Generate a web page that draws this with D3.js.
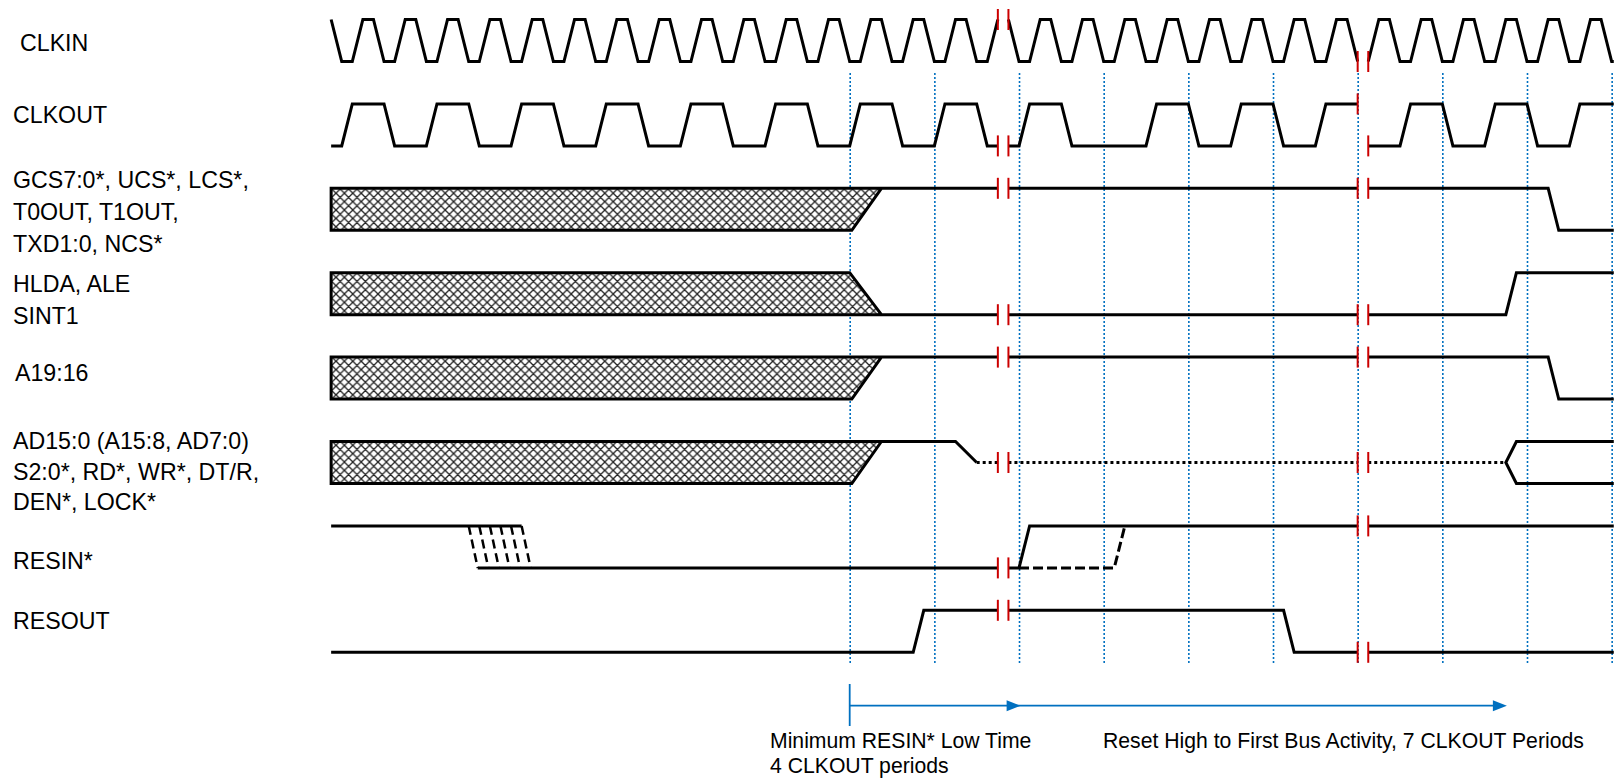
<!DOCTYPE html>
<html>
<head>
<meta charset="utf-8">
<script src="https://cdn.jsdelivr.net/npm/d3@7"></script>
<style>
  html, body { margin: 0; padding: 0; background: #fff; }
  svg { display: block; }
  text { font-family: "Liberation Sans", Arial, sans-serif; fill: #000; }
</style>
</head>
<body>
<svg id="chart" width="1614" height="780"></svg>
<script>

// time is counted in eighths of a CLKOUT period, t = 0 at the first marker line
// levels: 1 = high, 0 = low, 0.5 = floating

var labelLines = [
    [ 'CLKIN' ],
    [ 'CLKOUT' ],
    [ 'GCS7:0*, UCS*, LCS*,', 'T0OUT, T1OUT,', 'TXD1:0, NCS*' ],
    [ 'HLDA, ALE', 'SINT1' ],
    [ 'A19:16' ],
    [ 'AD15:0 (A15:8, AD7:0)', 'S2:0*, RD*, WR*, DT/R,', 'DEN*, LOCK*' ],
    [ 'RESIN*' ],
    [ 'RESOUT' ]
];

// clocks: [from, to, start level] and the edge times inside each span
var clkinSpans = [ [ -49, 14, 1 ], [ 15, 48, 1 ], [ 49, 72.2, 0 ] ];
var clkinEdges = [
    [ -49, -47, -45, -43, -41, -39, -37, -35, -33, -31, -29, -27, -25, -23, -21, -19,
      -17, -15, -13, -11, -9, -7, -5, -3, -1, 1, 3, 5, 7, 9, 11, 13 ],
    [ 15, 17, 19, 21, 23, 25, 27, 29, 31, 33, 35, 37, 39, 41, 43, 45, 47 ],
    [ 49, 51, 53, 55, 57, 59, 61, 63, 65, 67, 69, 71 ]
];

var clkoutSpans = [ [ -49, 14, 0 ], [ 15, 48, 0 ], [ 49, 72.2, 0 ] ];
var clkoutEdges = [
    [ -48, -44, -40, -36, -32, -28, -24, -20, -16, -12, -8, -4, 0, 4, 8, 12 ],
    [ 16, 20, 28, 32, 36, 40, 44 ],
    [ 52, 56, 60, 64, 68 ]
];

// buses / single lines as [t, level] polylines
var gcsHatch = [ [ -49, 1 ], [ 3, 1 ], [ 0.2, 0 ], [ -49, 0 ] ];
var gcsSolid = [
    [ [ 3, 1 ], [ 0.2, 0 ], [ -49, 0 ], [ -49, 1 ], [ 14, 1 ] ],
    [ [ 15, 1 ], [ 48, 1 ] ],
    [ [ 49, 1 ], [ 66, 1 ], [ 67, 0 ], [ 72.2, 0 ] ]
];

var hldaHatch = [ [ -49, 1 ], [ 0, 1 ], [ 3, 0 ], [ -49, 0 ] ];
var hldaSolid = [
    [ [ 3, 0 ], [ 0, 1 ], [ -49, 1 ], [ -49, 0 ], [ 14, 0 ] ],
    [ [ 15, 0 ], [ 48, 0 ] ],
    [ [ 49, 0 ], [ 62, 0 ], [ 63, 1 ], [ 72.2, 1 ] ]
];

var addrHatch = [ [ -49, 1 ], [ 3, 1 ], [ 0.2, 0 ], [ -49, 0 ] ];
var addrSolid = [
    [ [ 3, 1 ], [ 0.2, 0 ], [ -49, 0 ], [ -49, 1 ], [ 14, 1 ] ],
    [ [ 15, 1 ], [ 48, 1 ] ],
    [ [ 49, 1 ], [ 66, 1 ], [ 67, 0 ], [ 72.2, 0 ] ]
];

var adHatch = [ [ -49, 1 ], [ 3, 1 ], [ 0.2, 0 ], [ -49, 0 ] ];
var adSolid = [
    [ [ 3, 1 ], [ 0.2, 0 ], [ -49, 0 ], [ -49, 1 ], [ 10, 1 ], [ 12, 0.5 ] ],
    [ [ 72.2, 1 ], [ 63, 1 ], [ 62, 0.5 ], [ 63, 0 ], [ 72.2, 0 ] ]
];
var adFloat = [
    [ [ 12, 0.5 ], [ 14, 0.5 ] ],
    [ [ 15, 0.5 ], [ 48, 0.5 ] ],
    [ [ 49, 0.5 ], [ 62, 0.5 ] ]
];

var resinSolid = [
    [ [ -49, 1 ], [ -31, 1 ] ],
    [ [ -35.15, 0 ], [ 14, 0 ] ],
    [ [ 15, 0 ], [ 16, 0 ], [ 17, 1 ], [ 48, 1 ] ],
    [ [ 49, 1 ], [ 72.2, 1 ] ]
];
var resinFallTimes = [ -36, -35, -34, -33, -32, -31 ];
var resinLateRise = [ [ 16, 0 ], [ 25, 0 ], [ 26, 1 ] ];

var resoutSolid = [
    [ [ -49, 0 ], [ 6, 0 ], [ 7, 1 ], [ 14, 1 ] ],
    [ [ 15, 1 ], [ 41, 1 ], [ 42, 0 ], [ 48, 0 ] ],
    [ [ 49, 0 ], [ 72.2, 0 ] ]
];

var breakTimes = [ 14, 15, 48, 49 ];
var markerTimes = [ 0, 8, 16, 24, 32, 40, 48, 56, 64, 72 ];

var spanMarks = [ 0, 16.15, 62.1 ];
var spanText1 = [ 'Minimum RESIN* Low Time', '4 CLKOUT periods' ];
var spanText2 = [ 'Reset High to First Bus Activity, 7 CLKOUT Periods' ];

// ---------------------------------------------------------------

var BLUE = '#0070c0',
    RED = '#cc0000';

var svg = d3.select('#chart');

var x = d3.scaleLinear()
    .domain([ -50, 72 ])
    .range([ 320.55, 1611.66 ]);

var rowY = d3.scaleLinear()
    .domain([ 0, 7 ])
    .range([ 19.5, 610.3 ]);

var levelY = d3.scaleLinear()
    .domain([ 0, 1 ])
    .range([ 42, 0 ]);

function clockPoints ( span, edges ) {

    var lvl = span[2];
    var pts = [ [ span[0], lvl ] ];

    edges.forEach( function ( e ) {
        pts.push([ e, lvl ]);
        lvl = 1 - lvl;
        pts.push([ Math.min( e + 1, span[1] ), lvl ]);
    });

    pts.push([ span[1], lvl ]);
    return pts;

}

var signals = [
    { solid: clkinSpans.map( function ( s, i ) { return clockPoints( s, clkinEdges[i] ); } ) },
    { solid: clkoutSpans.map( function ( s, i ) { return clockPoints( s, clkoutEdges[i] ); } ) },
    { hatch: gcsHatch, solid: gcsSolid },
    { hatch: hldaHatch, solid: hldaSolid },
    { hatch: addrHatch, solid: addrSolid },
    { hatch: adHatch, solid: adSolid, dotted: adFloat },
    { solid: resinSolid, dashed: [ resinLateRise ],
      bundle: resinFallTimes.map( function ( t ) { return [ [ t, 1 ], [ t + 0.85, 0 ] ]; } ) },
    { solid: resoutSolid }
];

// hatch pattern

var defs = svg.append('defs');

var pattern = defs.append('pattern')
    .attr('id', 'xhatch')
    .attr('patternUnits', 'userSpaceOnUse')
    .attr('width', 8.4)
    .attr('height', 8.4);

pattern.append('rect')
    .attr('width', 8.4)
    .attr('height', 8.4)
    .attr('fill', '#fff');

pattern.append('path')
    .attr('d', 'M0,0L8.4,8.4M8.4,0L0,8.4M-1,7.4L1,9.4M7.4,-1L9.4,1')
    .attr('stroke', '#222')
    .attr('stroke-width', 1.3);

// marker lines (drawn as an axis with long ticks)

var grid = svg.append('g')
    .attr('transform', 'translate(0,663)')
    .call( d3.axisBottom( x ).tickValues( markerTimes ).tickSize( -592 ).tickFormat('') );

grid.select('.domain').remove();
grid.selectAll('line')
    .attr('stroke', BLUE)
    .attr('stroke-width', 1.6)
    .attr('stroke-dasharray', '2,2');

// signals

signals.forEach( function ( sig, row ) {

    var g = svg.append('g');
    var base = rowY( row );

    var line = d3.line()
        .x( function ( d ) { return x( d[0] ); } )
        .y( function ( d ) { return base + levelY( d[1] ); } );

    if ( sig.hatch ) {
        g.append('path')
            .attr('d', line( sig.hatch ) + 'Z')
            .attr('fill', 'url(#xhatch)');
    }

    var draw = function ( list, dash, width ) {
        g.selectAll(null)
            .data( list || [] )
            .enter().append('path')
            .attr('d', line)
            .attr('fill', 'none')
            .attr('stroke', '#000')
            .attr('stroke-width', width)
            .attr('stroke-dasharray', dash);
    };

    draw( sig.solid, null, 3 );
    draw( sig.dotted, '3,3', 3 );
    draw( sig.dashed, '10,4', 3 );
    draw( sig.bundle, '9,5', 2.5 );

    // break marks at the ends of every cut segment

    var cuts = [];
    [ sig.solid, sig.dotted, sig.dashed ].forEach( function ( list ) {
        ( list || [] ).forEach( function ( seg ) {
            [ seg[0], seg[ seg.length - 1 ] ].forEach( function ( p ) {
                if ( breakTimes.indexOf( p[0] ) >= 0 ) cuts.push( p );
            });
        });
    });

    g.selectAll('.cut')
        .data( cuts )
        .enter().append('line')
        .attr('class', 'cut')
        .attr('x1', function ( d ) { return x( d[0] ); })
        .attr('x2', function ( d ) { return x( d[0] ); })
        .attr('y1', function ( d ) { return base + levelY( d[1] ) - 10.5; })
        .attr('y2', function ( d ) { return base + levelY( d[1] ) + 10.5; })
        .attr('stroke', RED)
        .attr('stroke-width', 2);

});

// labels

var labelX = [ 20, 13, 13, 13, 15, 13, 13, 13 ];
var labelY = [ 50.7, 123.3, 187.5, 292, 380.5, 449, 568.5, 629 ];
var labelGap = [ 0, 0, 32, 32, 0, 30.5, 0, 0 ];

labelLines.forEach( function ( lines, i ) {
    svg.append('text')
        .attr('x', labelX[i])
        .attr('y', labelY[i])
        .style('font-size', '23.2px')
        .selectAll('tspan')
        .data( lines )
        .enter().append('tspan')
        .attr('x', labelX[i])
        .attr('dy', function ( d, j ) { return j ? labelGap[i] : 0; })
        .text( function ( d ) { return d; } );
});

// timing annotation

var ann = svg.append('g');
var arrowY = 705.7;

ann.append('line')
    .attr('x1', x( spanMarks[0] )).attr('x2', x( spanMarks[0] ))
    .attr('y1', 684).attr('y2', 726)
    .attr('stroke', BLUE).attr('stroke-width', 1.8);

ann.append('line')
    .attr('x1', x( spanMarks[0] )).attr('x2', x( spanMarks[2] ) - 8)
    .attr('y1', arrowY).attr('y2', arrowY)
    .attr('stroke', BLUE).attr('stroke-width', 1.8);

ann.selectAll('.head')
    .data( spanMarks.slice(1) )
    .enter().append('path')
    .attr('class', 'head')
    .attr('d', function ( t ) {
        var tx = x( t );
        return 'M' + tx + ',' + arrowY + 'L' + ( tx - 14 ) + ',' + ( arrowY - 5.5 ) +
            'L' + ( tx - 14 ) + ',' + ( arrowY + 5.5 ) + 'Z';
    })
    .attr('fill', BLUE);

ann.append('text')
    .attr('x', 770).attr('y', 747.7)
    .style('font-size', '21.2px')
    .selectAll('tspan')
    .data( spanText1 )
    .enter().append('tspan')
    .attr('x', 770)
    .attr('dy', function ( d, j ) { return j ? 25.6 : 0; })
    .text( function ( d ) { return d; } );

ann.append('text')
    .attr('x', 1103).attr('y', 747.7)
    .style('font-size', '21.2px')
    .text( spanText2[0] );

</script>
</body>
</html>
